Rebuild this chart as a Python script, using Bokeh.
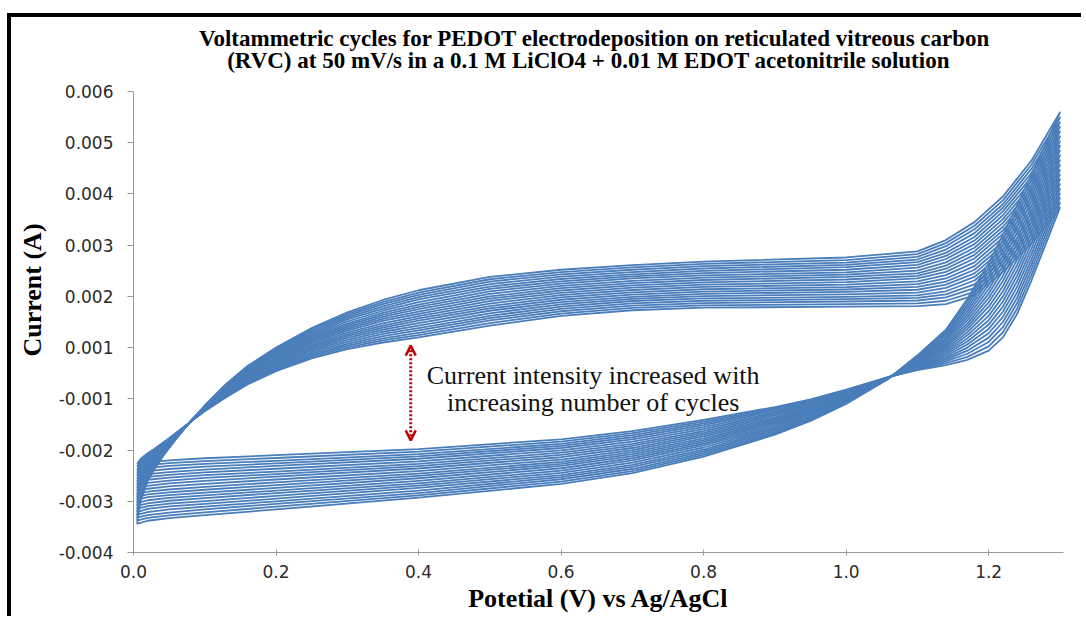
from bokeh.plotting import figure
from bokeh.models import Range1d, FixedTicker, PrintfTickFormatter, Label, Arrow, OpenHead, ColumnDataSource
from bokeh.embed import file_html
from bokeh.resources import INLINE

# Potential knots (V vs Ag/AgCl): anodic sweep 0 -> 1.3 V, then the return sweep 1.3 -> 0 V
FWD_POTENTIAL = [0.005, 0.01, 0.02, 0.03, 0.045, 0.06, 0.08, 0.10, 0.13, 0.16, 0.20, 0.25, 0.30,
                 0.35, 0.40, 0.50, 0.60, 0.70, 0.80, 1.00, 1.10, 1.14, 1.18, 1.22, 1.26, 1.30]
REV_POTENTIAL = [1.30, 1.28, 1.26, 1.24, 1.22, 1.20, 1.17, 1.14, 1.10, 1.06, 1.00, 0.95, 0.90,
                 0.80, 0.70, 0.60, 0.40, 0.20, 0.10, 0.05, 0.02, 0.005]

# Current in units of 1e-4 A (axis scale) at each knot; columns are cycles 1..21
FWD_CURRENT = [
    [-12.7, -13.3, -13.9, -14.45, -15.0, -15.6, -16.2, -16.8, -17.4, -18.0, -18.6, -19.15, -19.7, -20.3, -20.9, -21.5, -22.1, -22.65, -23.2, -23.8, -24.4],
    [-11.7, -12.1, -12.5, -12.9, -13.3, -13.75, -14.2, -14.6, -15.0, -15.4, -15.8, -16.2, -16.6, -17.0, -17.4, -17.85, -18.3, -18.7, -19.1, -19.5, -19.9],
    [-10.6, -10.85, -11.1, -11.4, -11.7, -11.95, -12.2, -12.5, -12.8, -13.05, -13.3, -13.55, -13.8, -14.1, -14.4, -14.65, -14.9, -15.2, -15.5, -15.75, -16.0],
    [-9.7, -9.9, -10.1, -10.3, -10.5, -10.7, -10.9, -11.1, -11.3, -11.5, -11.7, -11.85, -12.0, -12.2, -12.4, -12.6, -12.8, -13.0, -13.2, -13.4, -13.6],
    [-8.2, -8.3, -8.4, -8.55, -8.7, -8.8, -8.9, -9.0, -9.1, -9.25, -9.4, -9.5, -9.6, -9.7, -9.8, -9.9, -10.0, -10.15, -10.3, -10.4, -10.5],
    [-6.6, -6.65, -6.7, -6.75, -6.8, -6.9, -7.0, -7.05, -7.1, -7.15, -7.2, -7.25, -7.3, -7.35, -7.4, -7.5, -7.6, -7.65, -7.7, -7.75, -7.8],
    [-4.5, -4.5, -4.5, -4.5, -4.5, -4.5, -4.5, -4.5, -4.5, -4.5, -4.5, -4.45, -4.4, -4.4, -4.4, -4.4, -4.4, -4.4, -4.4, -4.4, -4.4],
    [-2.4, -2.35, -2.3, -2.25, -2.2, -2.15, -2.1, -2.05, -2.0, -1.95, -1.9, -1.8, -1.7, -1.65, -1.6, -1.55, -1.5, -1.45, -1.4, -1.35, -1.3],
    [0.3, 0.45, 0.6, 0.7, 0.8, 0.95, 1.1, 1.2, 1.3, 1.45, 1.6, 1.75, 1.9, 2.0, 2.1, 2.25, 2.4, 2.5, 2.6, 2.75, 2.9],
    [2.8, 3.0, 3.2, 3.35, 3.5, 3.7, 3.9, 4.05, 4.2, 4.4, 4.6, 4.8, 5.0, 5.15, 5.3, 5.5, 5.7, 5.85, 6.0, 6.2, 6.4],
    [5.4, 5.65, 5.9, 6.1, 6.3, 6.55, 6.8, 7.0, 7.2, 7.45, 7.7, 7.95, 8.2, 8.4, 8.6, 8.85, 9.1, 9.3, 9.5, 9.75, 10.0],
    [7.9, 8.2, 8.5, 8.8, 9.1, 9.4, 9.7, 10.0, 10.3, 10.6, 10.9, 11.15, 11.4, 11.7, 12.0, 12.3, 12.6, 12.9, 13.2, 13.5, 13.8],
    [9.7, 10.05, 10.4, 10.75, 11.1, 11.5, 11.9, 12.25, 12.6, 12.95, 13.3, 13.65, 14.0, 14.35, 14.7, 15.1, 15.5, 15.85, 16.2, 16.55, 16.9],
    [11.0, 11.4, 11.8, 12.25, 12.7, 13.1, 13.5, 13.9, 14.3, 14.75, 15.2, 15.6, 16.0, 16.4, 16.8, 17.2, 17.6, 18.05, 18.5, 18.9, 19.3],
    [12.0, 12.45, 12.9, 13.35, 13.8, 14.3, 14.8, 15.25, 15.7, 16.15, 16.6, 17.05, 17.5, 17.95, 18.4, 18.9, 19.4, 19.85, 20.3, 20.75, 21.2],
    [14.3, 14.8, 15.3, 15.75, 16.2, 16.7, 17.2, 17.65, 18.1, 18.6, 19.1, 19.55, 20.0, 20.5, 21.0, 21.45, 21.9, 22.4, 22.9, 23.35, 23.8],
    [16.2, 16.65, 17.1, 17.55, 18.0, 18.45, 18.9, 19.35, 19.8, 20.25, 20.7, 21.15, 21.6, 22.05, 22.5, 22.95, 23.4, 23.85, 24.3, 24.75, 25.2],
    [17.3, 17.75, 18.2, 18.65, 19.1, 19.5, 19.9, 20.35, 20.8, 21.25, 21.7, 22.15, 22.6, 23.05, 23.5, 23.9, 24.3, 24.75, 25.2, 25.65, 26.1],
    [17.8, 18.25, 18.7, 19.15, 19.6, 20.05, 20.5, 20.95, 21.4, 21.85, 22.3, 22.75, 23.2, 23.65, 24.1, 24.55, 25.0, 25.45, 25.9, 26.35, 26.8],
    [18.0, 18.5, 19.0, 19.45, 19.9, 20.4, 20.9, 21.35, 21.8, 22.3, 22.8, 23.3, 23.8, 24.25, 24.7, 25.2, 25.7, 26.15, 26.6, 27.1, 27.6],
    [18.1, 18.65, 19.2, 19.7, 20.2, 20.75, 21.3, 21.85, 22.4, 22.95, 23.5, 24.0, 24.5, 25.05, 25.6, 26.15, 26.7, 27.2, 27.7, 28.25, 28.8],
    [18.5, 19.15, 19.8, 20.4, 21.0, 21.65, 22.3, 22.9, 23.5, 24.15, 24.8, 25.4, 26.0, 26.65, 27.3, 27.9, 28.5, 29.15, 29.8, 30.4, 31.0],
    [20.2, 20.9, 21.6, 22.35, 23.1, 23.8, 24.5, 25.2, 25.9, 26.65, 27.4, 28.1, 28.8, 29.5, 30.2, 30.9, 31.6, 32.35, 33.1, 33.8, 34.5],
    [24.8, 25.55, 26.3, 27.0, 27.7, 28.45, 29.2, 29.95, 30.7, 31.45, 32.2, 32.9, 33.6, 34.35, 35.1, 35.85, 36.6, 37.3, 38.0, 38.75, 39.5],
    [30.4, 31.2, 32.0, 32.8, 33.6, 34.4, 35.2, 36.0, 36.8, 37.65, 38.5, 39.3, 40.1, 40.9, 41.7, 42.5, 43.3, 44.1, 44.9, 45.7, 46.5],
    [37.3, 38.25, 39.2, 40.1, 41.0, 41.95, 42.9, 43.8, 44.7, 45.65, 46.6, 47.55, 48.5, 49.4, 50.3, 51.25, 52.2, 53.1, 54.0, 54.95, 55.9],
]
REV_CURRENT = [
    [37.3, 38.25, 39.2, 40.1, 41.0, 41.95, 42.9, 43.8, 44.7, 45.65, 46.6, 47.55, 48.5, 49.4, 50.3, 51.25, 52.2, 53.1, 54.0, 54.95, 55.9],
    [30.2, 31.2, 32.2, 33.15, 34.1, 35.1, 36.1, 37.05, 38.0, 39.0, 40.0, 41.0, 42.0, 42.95, 43.9, 44.9, 45.9, 46.85, 47.8, 48.8, 49.8],
    [23.1, 24.15, 25.2, 26.2, 27.2, 28.25, 29.3, 30.35, 31.4, 32.45, 33.5, 34.5, 35.5, 36.55, 37.6, 38.65, 39.7, 40.7, 41.7, 42.75, 43.8],
    [16.6, 17.65, 18.7, 19.75, 20.8, 21.9, 23.0, 24.05, 25.1, 26.15, 27.2, 28.25, 29.3, 30.35, 31.4, 32.5, 33.6, 34.65, 35.7, 36.75, 37.8],
    [12.0, 13.0, 14.0, 15.0, 16.0, 17.0, 18.0, 19.0, 20.0, 21.0, 22.0, 23.0, 24.0, 25.0, 26.0, 27.0, 28.0, 29.0, 30.0, 31.0, 32.0],
    [9.4, 10.25, 11.1, 11.95, 12.8, 13.65, 14.5, 15.35, 16.2, 17.1, 18.0, 18.85, 19.7, 20.55, 21.4, 22.25, 23.1, 23.95, 24.8, 25.65, 26.5],
    [7.6, 8.2, 8.8, 9.4, 10.0, 10.6, 11.2, 11.8, 12.4, 13.0, 13.6, 14.15, 14.7, 15.3, 15.9, 16.5, 17.1, 17.7, 18.3, 18.9, 19.5],
    [6.6, 6.95, 7.3, 7.65, 8.0, 8.35, 8.7, 9.05, 9.4, 9.75, 10.1, 10.4, 10.7, 11.05, 11.4, 11.75, 12.1, 12.45, 12.8, 13.15, 13.5],
    [5.6, 5.75, 5.9, 6.05, 6.2, 6.35, 6.5, 6.65, 6.8, 6.95, 7.1, 7.2, 7.3, 7.45, 7.6, 7.75, 7.9, 8.05, 8.2, 8.35, 8.5],
    [4.3, 4.3, 4.3, 4.25, 4.2, 4.2, 4.2, 4.2, 4.2, 4.2, 4.2, 4.15, 4.1, 4.1, 4.1, 4.1, 4.1, 4.05, 4.0, 4.0, 4.0],
    [1.8, 1.65, 1.5, 1.35, 1.2, 1.1, 1.0, 0.85, 0.7, 0.55, 0.4, 0.25, 0.1, -0.05, -0.2, -0.3, -0.4, -0.55, -0.7, -0.85, -1.0],
    [-0.1, -0.3, -0.5, -0.7, -0.9, -1.15, -1.4, -1.6, -1.8, -2.0, -2.2, -2.4, -2.6, -2.8, -3.0, -3.25, -3.5, -3.7, -3.9, -4.1, -4.3],
    [-1.6, -1.85, -2.1, -2.4, -2.7, -2.95, -3.2, -3.5, -3.8, -4.05, -4.3, -4.55, -4.8, -5.1, -5.4, -5.65, -5.9, -6.2, -6.5, -6.75, -7.0],
    [-4.1, -4.45, -4.8, -5.15, -5.5, -5.9, -6.3, -6.65, -7.0, -7.35, -7.7, -8.05, -8.4, -8.75, -9.1, -9.5, -9.9, -10.25, -10.6, -10.95, -11.3],
    [-6.3, -6.7, -7.1, -7.5, -7.9, -8.35, -8.8, -9.2, -9.6, -10.0, -10.4, -10.8, -11.2, -11.6, -12.0, -12.45, -12.9, -13.3, -13.7, -14.1, -14.5],
    [-7.9, -8.35, -8.8, -9.2, -9.6, -10.05, -10.5, -10.95, -11.4, -11.85, -12.3, -12.7, -13.1, -13.55, -14.0, -14.45, -14.9, -15.3, -15.7, -16.15, -16.6],
    [-9.8, -10.3, -10.8, -11.25, -11.7, -12.2, -12.7, -13.15, -13.6, -14.1, -14.6, -15.05, -15.5, -16.0, -16.5, -16.95, -17.4, -17.9, -18.4, -18.85, -19.3],
    [-11.0, -11.55, -12.1, -12.6, -13.1, -13.65, -14.2, -14.7, -15.2, -15.75, -16.3, -16.85, -17.4, -17.9, -18.4, -18.95, -19.5, -20.0, -20.5, -21.05, -21.6],
    [-11.6, -12.15, -12.7, -13.25, -13.8, -14.35, -14.9, -15.45, -16.0, -16.6, -17.2, -17.75, -18.3, -18.85, -19.4, -19.95, -20.5, -21.05, -21.6, -22.15, -22.7],
    [-12.0, -12.55, -13.1, -13.7, -14.3, -14.85, -15.4, -15.95, -16.5, -17.1, -17.7, -18.25, -18.8, -19.35, -19.9, -20.45, -21.0, -21.6, -22.2, -22.75, -23.3],
    [-12.4, -12.95, -13.5, -14.1, -14.7, -15.25, -15.8, -16.4, -17.0, -17.55, -18.1, -18.65, -19.2, -19.8, -20.4, -20.95, -21.5, -22.1, -22.7, -23.25, -23.8],
    [-12.7, -13.3, -13.9, -14.45, -15.0, -15.6, -16.2, -16.8, -17.4, -18.0, -18.6, -19.15, -19.7, -20.3, -20.9, -21.5, -22.1, -22.65, -23.2, -23.8, -24.4],
]

# Axis ticks and the labels printed next to them
X_TICKS = [0.0, 0.2, 0.4, 0.6, 0.8, 1.0, 1.2]
Y_TICKS = [0.006, 0.005, 0.004, 0.003, 0.002, 0.001, 0.0, -0.001, -0.002, -0.003]
Y_TICK_LABELS = ["0.006", "0.005", "0.004", "0.003", "0.002", "0.001",
                 "-0.001", "-0.002", "-0.003", "-0.004"]

TITLE_LINES = [
    "Voltammetric cycles for PEDOT electrodeposition on reticulated vitreous carbon",
    "(RVC) at 50 mV/s in a 0.1 M LiClO4 + 0.01 M EDOT acetonitrile solution",
]
NOTE_LINES = ["Current intensity increased with", "increasing number of cycles"]

BLUE = "#4A7EBB"
RED = "#C00000"
SERIF = "Liberation Serif"

Y_TOP = 0.006      # top of the current axis; the space above it holds the title
p = figure(width=1074, height=603, output_backend="svg", toolbar_location=None, title=None,
           x_range=Range1d(0, 1.305), y_range=Range1d(-0.003, 0.00725),
           min_border_left=122, min_border_right=22, min_border_top=10, min_border_bottom=68)
p.styles = {"border-left": "4px solid #000", "border-top": "4px solid #000",
            "margin-left": "7px", "margin-top": "13px"}
p.outline_line_color = None
p.xgrid.visible = False
p.ygrid.visible = False
p.background_fill_color = "white"
p.border_fill_color = "white"

# one loop per cycle: anodic sweep followed by the return sweep
n_cycles = len(FWD_CURRENT[0])
xs, ys = [], []
for c in range(n_cycles):
    xs.append(FWD_POTENTIAL + REV_POTENTIAL)
    ys.append([row[c] * 1e-4 for row in FWD_CURRENT] + [row[c] * 1e-4 for row in REV_CURRENT])
src = ColumnDataSource(dict(xs=xs, ys=ys))
p.multi_line("xs", "ys", source=src, line_color=BLUE, line_width=1.8, line_join="round")

# axes
for ax in (p.xaxis, p.yaxis):
    ax.axis_line_color = "#9a9a9a"
    ax.major_tick_line_color = "#9a9a9a"
    ax.minor_tick_line_color = None
    ax.major_label_text_font = "DejaVu Sans"
    ax.major_label_text_font_size = "17px"
    ax.major_label_text_color = "#2b2b2b"
    ax.axis_label_text_font = SERIF
    ax.axis_label_text_font_style = "bold"
    ax.axis_label_text_font_size = "26px"
    ax.axis_label_text_color = "#000000"

p.xaxis.ticker = FixedTicker(ticks=X_TICKS)
p.xaxis.formatter = PrintfTickFormatter(format="%.1f")
p.xaxis.major_tick_in = 3
p.xaxis.major_tick_out = 3
p.xaxis.major_label_standoff = 9
p.xaxis.axis_label = "Potetial (V) vs Ag/AgCl"
p.xaxis.axis_label_standoff = 3

p.yaxis.ticker = FixedTicker(ticks=Y_TICKS)
p.yaxis.major_label_overrides = dict(zip(Y_TICKS, Y_TICK_LABELS))
p.yaxis.bounds = (-0.003, Y_TOP)
p.yaxis.major_tick_in = 0
p.yaxis.major_tick_out = 6
p.yaxis.major_label_standoff = 14
p.yaxis.axis_label = "Current (A)"
p.yaxis.axis_label_standoff = 9

# two-line title above the curves
for text, x, y in zip(TITLE_LINES, (0.647, 0.6385), (0.007035, 0.006606)):
    p.add_layout(Label(x=x, y=y, text=text, text_font=SERIF, text_font_style="bold",
                       text_font_size="23px", text_align="center", text_baseline="alphabetic",
                       text_color="#000000"))

# note and double-headed dotted arrow
for text, y in zip(NOTE_LINES, (0.000456, -0.000072)):
    p.add_layout(Label(x=0.645, y=y, text=text, text_font=SERIF, text_font_size="26px",
                       text_align="center", text_baseline="alphabetic", text_color="#111111"))

p.add_layout(Arrow(x_start=0.389, y_start=-0.00081, x_end=0.389, y_end=0.00104,
                   start=OpenHead(size=10, line_color=RED, line_width=2.5),
                   end=OpenHead(size=10, line_color=RED, line_width=2.5),
                   line_color=RED, line_width=3, line_dash="2 2"))

open("out.html", "w").write(file_html(p, INLINE))
